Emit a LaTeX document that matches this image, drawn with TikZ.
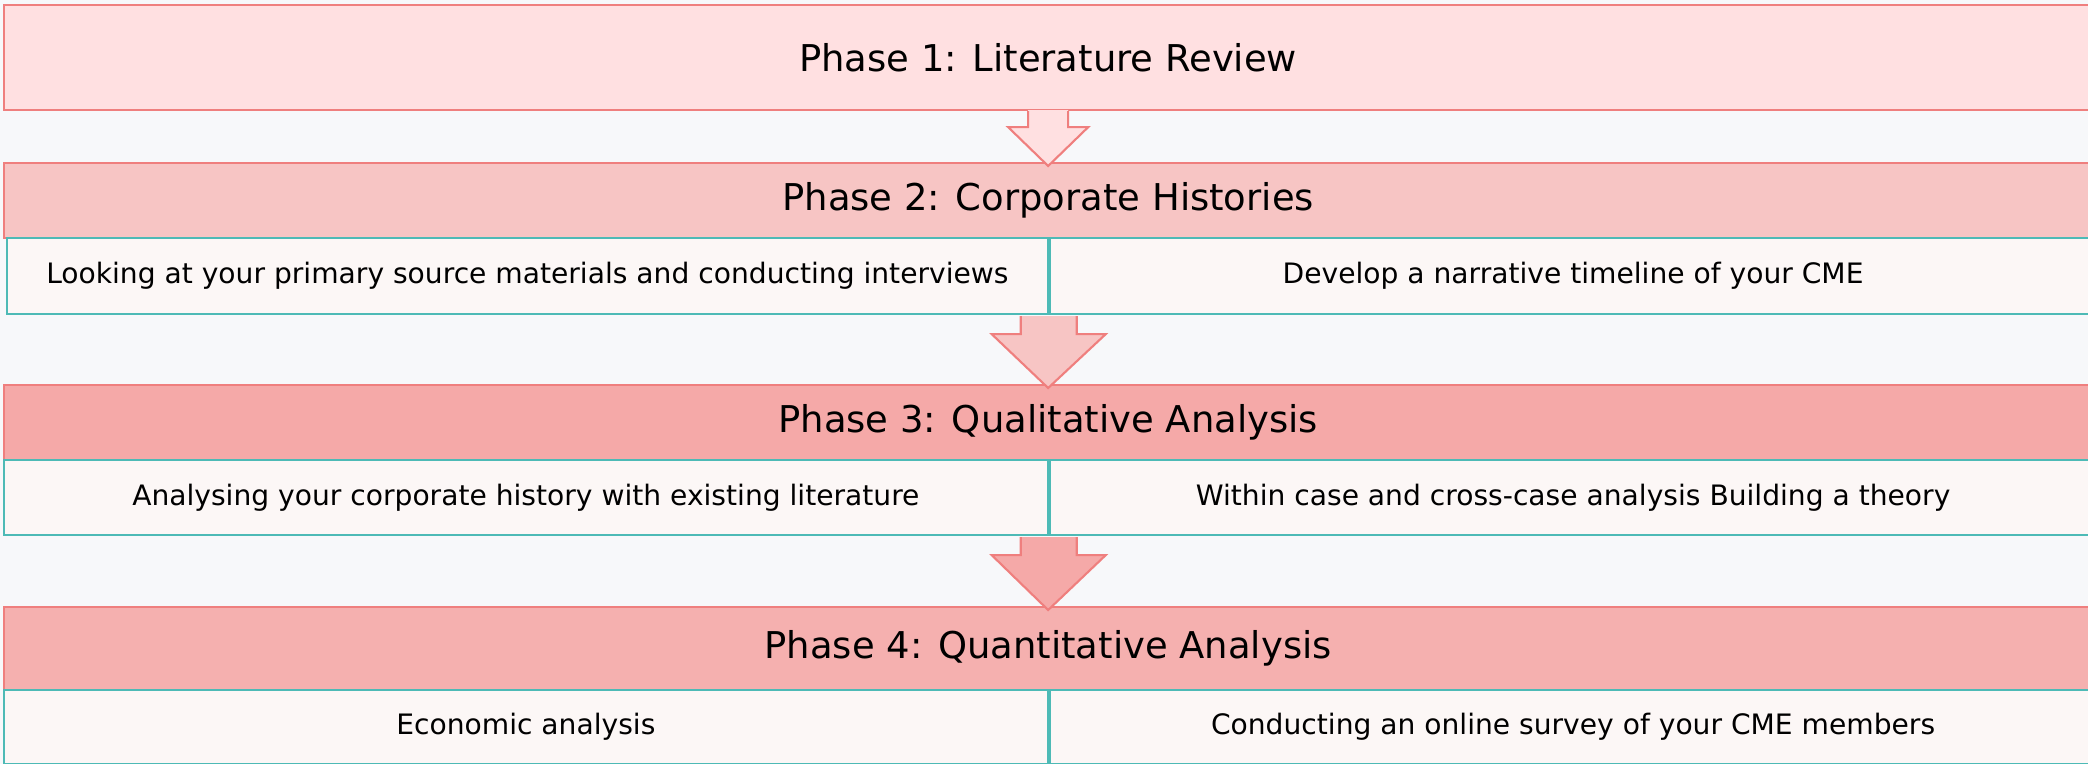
\documentclass[tikz,border=0pt]{standalone}
\usepackage{fontspec}
\setmainfont{DejaVu Sans}
\usetikzlibrary{calc}
\definecolor{bgcol}{HTML}{F7F8FA}
\definecolor{redline}{HTML}{EF7F7E}
\definecolor{tealline}{HTML}{4DBAB6}
\definecolor{phaseone}{HTML}{FFE0E1}
\definecolor{phasetwo}{HTML}{F7C5C4}
\definecolor{phasethree}{HTML}{F5A9A8}
\definecolor{phasefour}{HTML}{F5B0AF}
\definecolor{subfill}{HTML}{FCF7F6}
\tikzset{
	phasebox/.style={draw=redline,line width=0.6pt,anchor=north west,minimum width=20.87cm,inner sep=0pt,font=\fontsize{10.5}{12}\selectfont},
	taskbox/.style={draw=tealline,fill=subfill,line width=0.6pt,anchor=north west,inner sep=0pt,font=\fontsize{8}{10}\selectfont},
	arrowline/.style={draw=redline,line width=0.6pt,line join=miter}
}
\begin{document}
\begin{tikzpicture}[x=0.01cm,y=-0.01cm]
			%canvas
			\fill[bgcol] (0,0) rectangle (2088,764);
			\useasboundingbox (0,0) rectangle (2088,764);
			%Phases
			\node[phasebox,fill=phaseone,minimum height=1.05cm] (p1) at (3,4) {Phase 1: Literature Review};
			\node[phasebox,fill=phasetwo,minimum height=0.75cm] (p2) at (3,162) {Phase 2: Corporate Histories};
			\node[phasebox,fill=phasethree,minimum height=0.75cm] (p3) at (3,384) {Phase 3: Qualitative Analysis};
			\node[phasebox,fill=phasefour,minimum height=0.83cm] (p4) at (3,606) {Phase 4: Quantitative Analysis};
			%Tasks
			\node[taskbox,minimum width=10.40cm,minimum height=0.76cm] (p2l) at (6,237) {Looking at your primary source materials and conducting interviews};
			\node[taskbox,minimum width=10.46cm,minimum height=0.76cm] (p2r) at (p2l.north east) {Develop a narrative timeline of your CME};
			\node[taskbox,minimum width=10.43cm,minimum height=0.75cm] (p3l) at (3,459) {Analysing your corporate history with existing literature};
			\node[taskbox,minimum width=10.46cm,minimum height=0.75cm] (p3r) at (p3l.north east) {Within case and cross-case analysis Building a theory};
			\node[taskbox,minimum width=10.43cm,minimum height=0.74cm] (p4l) at (3,689) {Economic analysis};
			\node[taskbox,minimum width=10.46cm,minimum height=0.74cm] (p4r) at (p4l.north east) {Conducting an online survey of your CME members};
			%Arrows
			\fill[phaseone] ($(p1.south)+(-20,-1)$) -- ($(p1.south)+(-20,16)$) -- ($(p1.south)+(-40,16)$) -- ($(p2.north)+(0,4)$) -- ($(p1.south)+(40,16)$) -- ($(p1.south)+(20,16)$) -- ($(p1.south)+(20,-1)$) -- cycle;
			\draw[arrowline] ($(p1.south)+(-20,0)$) -- ($(p1.south)+(-20,16)$) -- ($(p1.south)+(-40,16)$) -- ($(p2.north)+(0,4)$) -- ($(p1.south)+(40,16)$) -- ($(p1.south)+(20,16)$) -- ($(p1.south)+(20,0)$);
			\fill[phasetwo] ($(p2l.south east)+(-28,1)$) -- ($(p2l.south east)+(-28,19)$) -- ($(p2l.south east)+(-57,19)$) -- ($(p3.north)+(0,4)$) -- ($(p2l.south east)+(57,19)$) -- ($(p2l.south east)+(28,19)$) -- ($(p2l.south east)+(28,1)$) -- cycle;
			\draw[arrowline] ($(p2l.south east)+(-28,1)$) -- ($(p2l.south east)+(-28,19)$) -- ($(p2l.south east)+(-57,19)$) -- ($(p3.north)+(0,4)$) -- ($(p2l.south east)+(57,19)$) -- ($(p2l.south east)+(28,19)$) -- ($(p2l.south east)+(28,1)$);
			\fill[phasethree] ($(p3l.south east)+(-28,1)$) -- ($(p3l.south east)+(-28,19)$) -- ($(p3l.south east)+(-57,19)$) -- ($(p4.north)+(0,4)$) -- ($(p3l.south east)+(57,19)$) -- ($(p3l.south east)+(28,19)$) -- ($(p3l.south east)+(28,1)$) -- cycle;
			\draw[arrowline] ($(p3l.south east)+(-28,1)$) -- ($(p3l.south east)+(-28,19)$) -- ($(p3l.south east)+(-57,19)$) -- ($(p4.north)+(0,4)$) -- ($(p3l.south east)+(57,19)$) -- ($(p3l.south east)+(28,19)$) -- ($(p3l.south east)+(28,1)$);
		\end{tikzpicture}
\end{document}
